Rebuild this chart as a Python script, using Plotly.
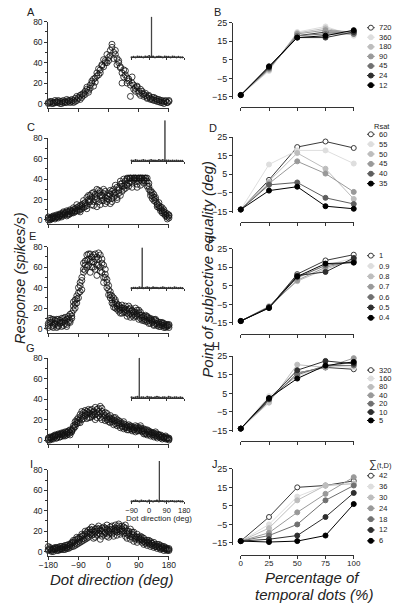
import plotly.graph_objects as go

# ---------------- data ----------------
directions = list(range(-180, 181, 5))  # dot direction (deg), 73 values

A_resp_1 = [1,2,0,1,3,2,1,0,2,3,1,4,2,3,2,
            1,5,3,6,4,9,8,12,14,11,
            18,22,17,25,30,28,33,38,36,42,40,
            45,52,58,50,48,44,40,36,30,33,28,
            25,22,7,20,18,15,16,12,14,10,
            9,8,6,7,5,4,6,3,2,4,3,1,2,3,1,2]
A_resp_2 = [0,1,2,0,1,1,3,2,0,1,2,1,3,1,4,
            3,2,7,5,8,6,10,9,16,13,
            15,20,24,21,27,34,30,37,43,40,48,
            42,47,55,44,52,38,42,35,20,26,32,
            20,24,18,26,14,12,17,10,8,12,
            7,10,5,8,4,6,3,5,4,2,1,3,0,2,1,3]
C_resp_1 = [2,1,3,2,4,3,5,4,6,5,7,4,8,6,9,
            10,8,12,9,14,11,16,13,22,18,
            24,15,27,20,30,18,28,22,26,16,24,
            20,25,18,30,24,32,26,35,28,33,38,
            40,36,41,41,41,38,41,41,34,41,
            41,41,38,33,27,24,22,18,16,14,11,9,8,5,3,4]
C_resp_2 = [0,2,1,3,2,5,3,6,4,7,5,8,6,9,7,
            7,11,9,13,10,15,12,17,14,20,
            18,22,14,25,21,26,15,24,19,28,21,
            26,16,28,22,27,20,31,24,36,30,34,
            34,41,38,32,41,41,35,41,41,38,
            39,41,41,30,29,21,25,20,15,12,13,7,10,4,6,2]
C_resp_3 = [3,0,2,4,1,3,2,5,3,8,6,9,5,10,8,
            12,9,15,11,8,13,19,15,11,24,
            20,26,18,23,13,29,24,19,30,22,18,
            23,29,21,26,34,22,29,38,33,40,31,
            41,33,41,36,39,41,32,38,41,41,
            36,38,33,36,24,27,19,22,13,17,9,12,6,7,1,5]
E_resp_1 = [5,8,2,9,4,7,3,8,6,10,5,9,12,8,15,
            22,28,25,35,42,50,58,62,72,68,
            73,65,72,58,70,74,60,55,62,50,45,
            38,30,28,24,26,22,20,18,23,20,16,
            18,14,20,13,16,12,18,15,10,13,
            12,9,11,8,10,6,9,5,7,4,6,3,5,2,4,3]
E_resp_2 = [1,6,9,3,8,1,9,5,2,7,11,4,6,14,10,
            18,24,32,30,45,38,55,66,60,73,
            55,70,60,68,52,62,72,68,50,58,40,
            33,36,25,30,20,24,17,21,15,18,22,
            12,22,15,17,11,20,14,9,16,11,
            8,13,7,10,5,8,4,9,3,6,2,5,1,4,2,1]
E_resp_3 = [3,10,6,1,5,9,2,6,10,3,8,2,10,6,12,
            26,20,29,40,36,47,64,57,67,62,
            66,60,65,73,62,68,56,64,45,53,48,
            42,33,32,21,28,19,23,15,20,16,19,
            15,19,11,18,14,16,12,18,13,8,
            10,7,12,5,9,7,3,8,5,2,4,6,3,1,3,4]
G_resp_1 = [1,3,2,4,3,5,4,6,5,7,6,8,9,7,10,
            14,18,16,22,25,20,27,24,28,22,
            26,30,24,32,22,28,33,20,26,24,22,
            20,24,18,22,16,20,15,18,14,16,13,
            12,15,11,13,10,14,9,12,10,11,
            9,7,10,6,8,5,7,4,6,3,5,3,2,4,1,2]
G_resp_2 = [2,0,3,1,5,2,6,3,7,4,8,5,6,10,8,
            12,15,20,17,21,28,23,26,21,30,
            22,25,28,20,30,24,26,31,22,19,26,
            23,17,21,15,19,14,17,12,16,11,15,
            14,10,13,9,12,8,13,9,12,8,
            6,10,5,8,4,7,3,6,2,5,3,1,3,1,2,0]
G_resp_3 = [0,2,1,3,4,2,5,3,6,5,4,7,8,5,9,
            11,13,18,19,17,24,21,29,25,27,
            29,23,27,25,26,31,22,28,24,27,20,
            18,21,20,19,22,17,19,16,13,18,12,
            10,13,14,11,10,12,11,10,14,9,
            11,6,8,9,6,7,5,8,4,5,2,4,2,3,2,1]
I_resp_1 = [5,2,1,3,2,4,1,3,5,2,4,6,3,7,5,
            9,6,12,8,14,10,16,12,19,14,
            22,16,20,14,23,18,21,15,24,19,26,
            20,24,17,22,26,19,27,21,25,18,23,
            20,16,22,14,19,13,17,12,15,11,
            13,9,11,8,10,6,9,5,7,4,6,3,5,2,3,1]
I_resp_2 = [1,3,2,0,3,1,4,2,3,5,2,4,7,4,8,
            5,11,7,13,9,17,11,20,13,18,
            17,21,13,19,16,22,12,20,17,23,15,
            14,18,22,15,20,16,23,17,20,24,15,
            13,18,12,17,10,15,9,14,12,9,
            7,11,6,9,5,8,4,7,3,5,2,4,1,3,1,2]
I_resp_3 = [2,4,0,2,4,3,2,5,2,4,6,3,5,6,9,
            11,8,14,10,12,15,13,17,15,21,
            19,24,17,22,20,25,17,23,21,18,22,
            17,21,25,19,23,21,25,19,22,20,26,
            17,20,15,19,16,12,14,11,13,14,
            10,8,9,11,7,8,6,5,5,7,3,5,3,4,2,3]

# inset: distribution of dot directions
inset_bins = list(range(-90, 171, 10))
A_inset = [0,1,0,2,1,1,0,2,1,3,1,2,0,1,2,1,0,2,1,1,0,2,1,0,1,0,0]
C_inset = [1,0,2,1,0,1,2,1,0,1,2,1,1,0,2,1,2,0,1,1,0,1,0,1,0,0,0]
E_inset = [0,1,1,0,2,1,0,1,2,1,0,2,1,1,0,1,2,1,0,1,1,0,2,1,0,1,0]
G_inset = [1,0,1,2,0,1,1,0,2,1,1,0,1,2,1,0,1,1,0,2,1,0,1,1,0,1,0]
I_inset = [0,1,2,1,0,2,1,1,0,2,1,0,1,2,0,1,1,0,1,0,1,1,0,0,1,0,0]
peak_dirs = [12, 81, -36, -51, 52]
peak_heights = [100, 102, 104, 98, 160]

# right column: PSE vs percentage of temporal dots
pct = [0, 25, 50, 75, 100]
pct_ticks = ["0", "25", "50", "75", "100"]

B_labels = ["720", "360", "180", "90", "45", "24", "12"]
B_values = [[-14, 0, 18, 20, 20],
            [-14, -1, 20, 23, 18],
            [-14, -0.5, 19.5, 22, 19],
            [-14, 0, 19, 21, 20],
            [-14, 0.5, 18, 19, 19],
            [-14, 1, 17, 17, 20],
            [-14, 1.5, 17, 18, 21]]
D_labels = ["60", "55", "50", "45", "40", "35"]
D_values = [[-14, 2, 19.7, 22.7, 19.2],
            [-14, 10.3, 17.9, 17.9, 10.8],
            [-14, 1, 16.5, 8, -8.3],
            [-14, 0, 12, 5.4, -4.5],
            [-14, -0.7, 0.6, -7.7, -11],
            [-14, -3.8, -1.7, -12.2, -13.6]]
F_labels = ["1", "0.9", "0.8", "0.7", "0.6", "0.5", "0.4"]
F_values = [[-14, -6.8, 11.3, 18.7, 21.8],
            [-14, -6, 9, 16, 20],
            [-14, -6, 7.5, 14, 19],
            [-14, -6.5, 8, 15, 18.5],
            [-14, -6.5, 9.5, 16, 18],
            [-14, -6.5, 10.5, 12.5, 20],
            [-14, -7, 10, 17, 17.5]]
H_labels = ["320", "160", "80", "40", "20", "10", "5"]
H_values = [[-14, 1, 16, 19, 18],
            [-14, 3.5, 14, 20, 19],
            [-14, 0, 20.5, 19, 22],
            [-14, 1.5, 16, 19, 24],
            [-14, 2, 15, 20, 20],
            [-14, 2, 17.5, 22.5, 21],
            [-14, 2.5, 13, 20, 22]]
J_labels = ["42", "36", "30", "24", "18", "12", "6"]
J_values = [[-14, -1, 15, 16, 18.5],
            [-14, -5, 10, 16, 17],
            [-14, -7, 8, 16, 17],
            [-14, -9.5, 1.5, 11.5, 20.5],
            [-14, -11, -5, 8, 16],
            [-14, -13, -11, -1, 12],
            [-14, -14.5, -14, -11, 6]]

# ---------------- helpers ----------------
W, H = 400, 608
def fx(p): return p / W
def fy(p): return 1 - p / H

FONT = "Liberation Sans, Arial, sans-serif"
INK = "#222222"
AX = "#333333"

def ref(n, kind): return kind + ("" if n == 1 else str(n))
def axkey(n, kind): return kind + "axis" + ("" if n == 1 else str(n))

fig = go.Figure()
layout = {}
annotations = []

def paper_text(text, x, y, size, angle=0, anchor="center"):
    annotations.append(dict(text=text, x=fx(x), y=fy(y), xref="paper", yref="paper",
                            showarrow=False, textangle=angle, xanchor=anchor, yanchor="middle",
                            font=dict(size=size, color=INK, family=FONT)))

# ---------------- left column ----------------
left = [("A", (A_resp_1, A_resp_2), 17, A_inset, 53),
        ("C", (C_resp_1, C_resp_2, C_resp_3), 135, C_inset, 158),
        ("E", (E_resp_1, E_resp_2, E_resp_3), 245, E_inset, 287),
        ("G", (G_resp_1, G_resp_2, G_resp_3), 358, G_inset, 398),
        ("I", (I_resp_1, I_resp_2, I_resp_3), 471, I_inset, 503)]
letter_pos_left = [(22, 7), (22, 124), (23, 234), (21, 348), (22, 465)]

for k, (letter, series, top, inset, base) in enumerate(left):
    n = k + 1
    xa, ya = ref(n, "x"), ref(n, "y")
    for r in series:
        fig.add_trace(go.Scatter(x=directions, y=r, mode="markers", xaxis=xa, yaxis=ya,
                                 cliponaxis=False,
                                 marker=dict(symbol="circle-open", size=6, color="#111",
                                             line=dict(width=0.8))))
    last = (k == 4)
    layout[axkey(n, "x")] = dict(domain=[fx(40), fx(166)], range=[-180, 180], anchor=ya,
                                 showline=True, linecolor=AX, linewidth=1,
                                 ticks="outside", ticklen=3, tickcolor=AX,
                                 tickvals=[-180, -90, 0, 90, 180],
                                 showticklabels=last, ticklabelstandoff=-2,
                                 tickfont=dict(size=8.5, color=INK, family=FONT),
                                 showgrid=False, zeroline=False)
    layout[axkey(n, "y")] = dict(domain=[fy(top + 87), fy(top)], range=[-4, 80], anchor=xa,
                                 showline=True, linecolor=AX, linewidth=1,
                                 ticks="outside", ticklen=3, tickcolor=AX,
                                 tickvals=[0, 20, 40, 60, 80],
                                 minor=dict(ticks="outside", ticklen=2, tickcolor=AX,
                                            tickvals=[10, 30, 50, 70]),
                                 tickfont=dict(size=8.5, color=INK, family=FONT),
                                 showgrid=False, zeroline=False)
    # inset
    m = 10 + n
    ixa, iya = ref(m, "x"), ref(m, "y")
    fig.add_trace(go.Scatter(x=inset_bins, y=inset, mode="markers", xaxis=ixa, yaxis=iya,
                             cliponaxis=False,
                             marker=dict(size=2.2, color="#333")))
    fig.add_trace(go.Bar(x=[peak_dirs[k]], y=[peak_heights[k]], width=2, xaxis=ixa, yaxis=iya,
                         cliponaxis=False, marker=dict(color="#222", line=dict(color="#222", width=0.6))))
    layout[axkey(m, "x")] = dict(domain=[fx(126), fx(182)], range=[-95, 180], anchor=iya,
                                 showline=True, linecolor=AX, linewidth=1,
                                 ticks="outside", ticklen=2, tickcolor=AX,
                                 tickvals=[-90, 0, 90, 180], showticklabels=last,
                                 tickfont=dict(size=7.5, color=INK, family=FONT),
                                 showgrid=False, zeroline=False)
    layout[axkey(m, "y")] = dict(domain=[fy(base), fy(base - 41)], range=[0, 100], anchor=ixa,
                                 visible=False)
    lx, ly = letter_pos_left[k]
    paper_text(letter, lx, ly, 11)

paper_text("Dot direction (deg)", 156, 520, 8)

# ---------------- right column ----------------
shades7 = ["#3a3a3a", "#dedede", "#bdbdbd", "#999999", "#707070", "#2e2e2e", "#000000"]
shades6 = ["#3a3a3a", "#dedede", "#bdbdbd", "#999999", "#5e5e5e", "#000000"]

right = [("B", B_labels, B_values, "N", 18, 103, 23, 9.7, 13, 392),
         ("D", D_labels, D_values, "Rsat", 134, 220, 131, 10, 123, 389),
         ("F", F_labels, F_values, "Cmax", 247, 333, 254, 10.5, 243, 389),
         ("H", H_labels, H_values, "t<sub>r</sub>", 356, 442, 370, 8.5, 360, 388),
         ("J", J_labels, J_values, "<span style='font-size:11px'>∑</span>(t,D)", 470, 557, 477, 11, 466, 387)]
letter_pos_right = [(217, 7), (212, 125), (210, 238), (215, 346), (214, 465)]

for k, (letter, labels, values, title, top, xline, first, sp, tpx, tcx) in enumerate(right):
    n = 6 + k
    xa, ya = ref(n, "x"), ref(n, "y")
    shades = shades7 if len(labels) == 7 else shades6
    for i, vals in enumerate(values):
        c = shades[i]
        fill = "white" if i == 0 else c
        fig.add_trace(go.Scatter(x=pct, y=vals, mode="lines+markers", xaxis=xa, yaxis=ya,
                                 cliponaxis=False,
                                 line=dict(color=c, width=1),
                                 marker=dict(size=5, color=fill, line=dict(color=c, width=1))))
    last = (k == 4)
    layout[axkey(n, "x")] = dict(domain=[fx(241), fx(359)], range=[0, 100], anchor="free",
                                 position=fy(xline),
                                 showline=True, linecolor=AX, linewidth=1,
                                 ticks="outside", ticklen=3, tickcolor=AX,
                                 tickvals=pct, ticktext=pct_ticks, showticklabels=last,
                                 ticklabelstandoff=-2,
                                 tickfont=dict(size=8, color=INK, family=FONT),
                                 showgrid=False, zeroline=False)
    layout[axkey(n, "y")] = dict(domain=[fy(top + 77), fy(top)], range=[-16, 25], anchor="free",
                                 position=fx(232),
                                 showline=True, linecolor=AX, linewidth=1,
                                 ticks="outside", ticklen=3, tickcolor=AX,
                                 tickvals=[25, 15, 5, -5, -15],
                                 tickfont=dict(size=9, color=INK, family=FONT),
                                 showgrid=False, zeroline=False)
    # legend drawn in its own small axes
    m = 15 + n
    lxa, lya = ref(m, "x"), ref(m, "y")
    cnt = len(labels)
    for i in range(cnt):
        c = shades[i]
        fill = "white" if i == 0 else c
        fig.add_trace(go.Scatter(x=[0.03, 0.32], y=[i, i], mode="lines", xaxis=lxa, yaxis=lya,
                                 cliponaxis=False, line=dict(color=c, width=1)))
        fig.add_trace(go.Scatter(x=[0.175], y=[i], mode="markers", xaxis=lxa, yaxis=lya,
                                 cliponaxis=False,
                                 marker=dict(size=5, color=fill, line=dict(color=c, width=1))))
        annotations.append(dict(text=labels[i], x=0.40, y=i, xref=lxa, yref=lya, showarrow=False,
                                xanchor="left", yanchor="middle",
                                font=dict(size=7.5, color=INK, family=FONT)))
    annotations.append(dict(text=title, x=(tcx - 372) / 28, y=(tpx - first) / sp, xref=lxa, yref=lya,
                            showarrow=False, xanchor="center", yanchor="middle",
                            font=dict(size=7.5, color=INK, family=FONT)))
    layout[axkey(m, "x")] = dict(domain=[fx(372), fx(400)], range=[0, 1], anchor=lya, visible=False)
    layout[axkey(m, "y")] = dict(domain=[fy(first + cnt * sp), fy(first - sp)], range=[cnt, -1],
                                 anchor=lxa, visible=False)
    lx, ly = letter_pos_right[k]
    paper_text(letter, lx, ly, 11)

# ---------------- axis titles ----------------
paper_text("<i>Response (spikes/s)</i>", 11, 277, 14.5, angle=-90)
paper_text("<i>Point of subjective equality (deg)</i>", 206, 268, 15, angle=-90)
paper_text("<i>Dot direction (deg)</i>", 106, 582, 15)
paper_text("<i>Percentage of</i>", 316, 580, 15)
paper_text("<i>temporal dots (%)</i>", 317, 597, 15)

fig.update_layout(width=W, height=H, margin=dict(l=0, r=0, t=0, b=0),
                  paper_bgcolor="white", plot_bgcolor="white", showlegend=False,
                  font=dict(family=FONT, color=INK), annotations=annotations, **layout)

fig.write_html("out.html", config={"displayModeBar": False, "staticPlot": True},
               post_script="document.body.style.margin='0px';")
